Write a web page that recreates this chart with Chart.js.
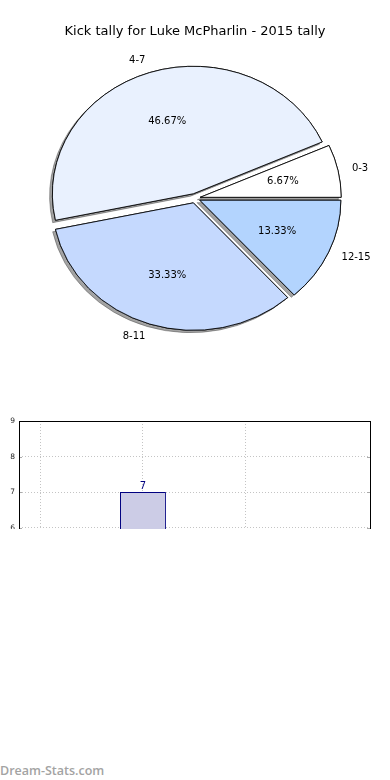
<!DOCTYPE html>
<html>
<head>
<meta charset="utf-8">
<script src="https://cdn.jsdelivr.net/npm/chart.js@4/dist/chart.umd.min.js"></script>
<style>
    body { margin: 0; background: #fff; width: 390px; height: 780px; position: relative; overflow: hidden; font-family: "DejaVu Sans", sans-serif; }
    #pie-box { position: absolute; left: 0; top: 0; width: 390px; height: 380px; }
    #bar-clip { position: absolute; left: 0; top: 400px; width: 390px; height: 129px; overflow: hidden; }
    #bar-box { position: absolute; left: 0; top: 0; width: 390px; height: 380px; }
    #watermark { position: absolute; left: 0; top: 762px; font-family: "Open Sans", sans-serif; font-weight: 600; font-size: 12.5px; color: #a3a3a3; }
</style>
</head>
<body>
<div id="pie-box"><canvas id="pieChart" width="390" height="380"></canvas></div>
<div id="bar-clip"><div id="bar-box"><canvas id="barChart" width="390" height="380"></canvas></div></div>
<div id="watermark">Dream-Stats.com</div>

<script>
// Kick tally buckets and counts (15 games)
const categories = ['0-3', '4-7', '8-11', '12-15'];
const kickCounts = [1, 7, 5, 2];
const sliceColors = ['#ffffff', '#e9f1fe', '#c5d9fe', '#b3d4fe'];
const yTicks = [0, 9];
const xGridTicks = [0, 1, 2];

const total = kickCounts.reduce((a, b) => a + b, 0);

// matplotlib draws counter-clockwise from 3 o'clock, chart.js clockwise -> reverse order
const pieLabels = categories.slice().reverse();
const pieData = kickCounts.slice().reverse();
const pieColors = sliceColors.slice().reverse();

const SCALE_Y = 0.904;   // pie is squashed vertically in the original
const EXPLODE = 5.3;
const SHADOW_X = -2.8;
const SHADOW_Y = 2.4;

// draws the exploded, squashed pie with a shadow and matplotlib style labels
const explodedPie = {
    id: 'explodedPie',
    beforeDatasetDraw(chart) {
        const ctx = chart.ctx;
        const arcs = chart.getDatasetMeta(0).data;
        const drawPass = (withShadow) => {
            arcs.forEach(arc => {
                const mid = (arc.startAngle + arc.endAngle) / 2;
                ctx.save();
                ctx.translate(arc.x, arc.y);
                ctx.scale(1, SCALE_Y);
                ctx.translate(-arc.x, -arc.y);
                ctx.translate(Math.cos(mid) * EXPLODE, Math.sin(mid) * EXPLODE);
                if (withShadow) {
                    ctx.shadowColor = 'rgba(50,50,50,0.45)';
                    ctx.shadowOffsetX = SHADOW_X;
                    ctx.shadowOffsetY = SHADOW_Y;
                    ctx.shadowBlur = 0;
                }
                arc.draw(ctx);
                ctx.restore();
            });
        };
        drawPass(true);
        drawPass(false);
        return false;
    },
    afterDatasetsDraw(chart) {
        const ctx = chart.ctx;
        const arcs = chart.getDatasetMeta(0).data;
        ctx.save();
        ctx.font = '10px "DejaVu Sans"';
        ctx.fillStyle = '#000';
        ctx.textBaseline = 'middle';
        arcs.forEach((arc, i) => {
            const mid = (arc.startAngle + arc.endAngle) / 2;
            const r = arc.outerRadius;
            const c = Math.cos(mid), s = Math.sin(mid);
            // category label at 1.1 r
            const lx = arc.x + c * (EXPLODE + 1.1 * r);
            const ly = arc.y + s * (EXPLODE + 1.1 * r) * SCALE_Y;
            ctx.textAlign = c > 0 ? 'left' : 'right';
            ctx.fillText(pieLabels[i], lx, ly);
            // percentage at 0.6 r
            const px = arc.x + c * (EXPLODE + 0.6 * r);
            const py = arc.y + s * (EXPLODE + 0.6 * r) * SCALE_Y;
            ctx.textAlign = 'center';
            ctx.fillText((pieData[i] / total * 100).toFixed(2) + '%', px, py);
        });
        ctx.restore();
    }
};

new Chart(document.getElementById('pieChart'), {
    type: 'pie',
    data: {
        labels: pieLabels,
        datasets: [{
            data: pieData,
            backgroundColor: pieColors,
            borderColor: '#000',
            borderWidth: 0.9,
            borderAlign: 'center'
        }]
    },
    options: {
        responsive: false,
        animation: false,
        rotation: 90,
        radius: 141,
        layout: { padding: { top: 14, bottom: 33, left: 0, right: 0 } },
        plugins: {
            legend: { display: false },
            tooltip: { enabled: false },
            title: {
                display: true,
                text: 'Kick tally for Luke McPharlin - 2015 tally',
                color: '#000',
                font: { family: 'DejaVu Sans', size: 13, weight: 'normal' },
                padding: { top: 10, bottom: 10 }
            }
        }
    },
    plugins: [explodedPie]
});

// bar chart, only the top part survives in the original picture
const boxAndLabels = {
    id: 'boxAndLabels',
    afterDatasetsDraw(chart) {
        const ctx = chart.ctx;
        const a = chart.chartArea;
        ctx.save();
        // small inward tick marks on y
        ctx.strokeStyle = '#aaa';
        ctx.lineWidth = 1;
        chart.scales.y.ticks.forEach(t => {
            const py = Math.round(chart.scales.y.getPixelForValue(t.value)) + 0.5;
            ctx.beginPath();
            ctx.moveTo(a.left, py); ctx.lineTo(a.left + 3, py);
            ctx.moveTo(a.right, py); ctx.lineTo(a.right - 3, py);
            ctx.stroke();
        });
        ctx.strokeStyle = '#000';
        ctx.strokeRect(a.left + 0.5, a.top + 0.5, a.right - a.left, a.bottom - a.top);
        ctx.font = '10px "DejaVu Sans"';
        ctx.fillStyle = '#000080';
        ctx.textAlign = 'center';
        ctx.textBaseline = 'bottom';
        chart.getDatasetMeta(0).data.forEach((bar, i) => {
            ctx.fillText(String(kickCounts[i]), bar.x, bar.y - 1);
        });
        ctx.restore();
    }
};

new Chart(document.getElementById('barChart'), {
    type: 'bar',
    data: {
        datasets: [{
            data: kickCounts.map((v, i) => ({ x: i, y: v })),
            backgroundColor: '#cccce6',
            borderColor: '#000080',
            borderWidth: 1,
            categoryPercentage: 1,
            barPercentage: 0.45
        }]
    },
    options: {
        responsive: false,
        animation: false,
        layout: { padding: { top: 21, right: 20, bottom: 19, left: 0 } },
        plugins: { legend: { display: false }, tooltip: { enabled: false } },
        scales: {
            x: {
                type: 'linear',
                offset: false,
                min: -0.215,
                max: 3.225,
                afterFit: s => { s.height = 20; },
                afterBuildTicks: s => { s.ticks = xGridTicks.map(v => ({ value: v })); },
                ticks: { display: false },
                grid: { color: '#c4c4c4', drawTicks: false, offset: false },
                border: { display: false, dash: [1, 2] }
            },
            y: {
                min: yTicks[0],
                max: yTicks[1],
                afterFit: s => { s.width = 19; },
                ticks: { stepSize: 1, color: '#222', font: { family: 'DejaVu Sans', size: 7.5 }, padding: 4 },
                grid: { color: '#c4c4c4', drawTicks: false },
                border: { display: false, dash: [1, 2] }
            }
        }
    },
    plugins: [boxAndLabels]
});
</script>
</body>
</html>
